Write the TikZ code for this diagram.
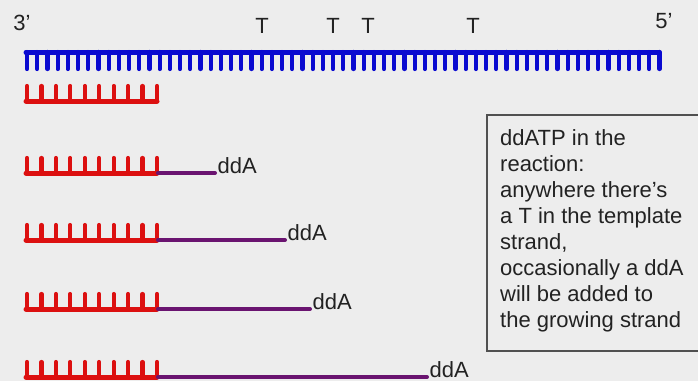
\documentclass[tikz,border=0pt]{standalone}
\usepackage{fontspec}
\setmainfont{Liberation Sans}
\definecolor{bgc}{HTML}{EDEDED}
\definecolor{tmpl}{HTML}{0A0AD0}
\definecolor{prim}{HTML}{DC1010}
\definecolor{ext}{HTML}{6A1470}
\definecolor{boxc}{HTML}{505050}
\definecolor{txt}{HTML}{222222}
\tikzset{
  lbl/.style={inner sep=0pt, text=txt, font=\fontsize{22}{26}\selectfont},
  ddalbl/.style={lbl, anchor=base west, inner xsep=2.5pt},
  extline/.style={draw=ext, line width=4pt, line cap=round},
  tooth/.style={line width=4.2pt},
}
\begin{document}
\begin{tikzpicture}[x=1pt,y=-1pt]
\fill[bgc] (0,0) rectangle (698,381);
\useasboundingbox (0,0) rectangle (698,381);
% labels on top
\node[lbl] (three) at (22,23) {3'};
\node[lbl] (five) at (664,21) {5'};
\foreach \x/\n in {262/t1,333/t2,368/t3,473/t4}
  \node[lbl] (\n) at (\x,26) {T};
% template strand
\draw[tmpl, line width=5pt, line cap=round] (26,52.5) -- (659,52.5);
\foreach \i in {0,...,62}
  \draw[tmpl, tooth, line cap=round] ({27+\i*10.2},52) -- ++(0,17);
% primers
\foreach \y/\n in {101/p0,173/p1,240/p2,309/p3,377/p4}{
  \draw[prim, line width=5pt, line cap=round] (26,\y) -- (157,\y);
  \foreach \i in {0,...,9}
    \draw[prim, tooth, line cap=round] ({27+\i*14.44},\y) -- ++(0,-15);
  \coordinate (\n) at (158,\y);
}
% extensions with ddA
\node[ddalbl] (d1) at (215,173) {ddA};
\node[ddalbl] (d2) at (285,240) {ddA};
\node[ddalbl] (d3) at (310,309) {ddA};
\node[ddalbl] (d4) at (427,377) {ddA};
\draw[extline] (p1) -- (d1.base west);
\draw[extline] (p2) -- (d2.base west);
\draw[extline] (p3) -- (d3.base west);
\draw[extline] (p4) -- (d4.base west);
% note box
\draw[boxc, line width=2pt] (487,115) rectangle (708,351);
\node[lbl, anchor=north west, align=left] (note) at (500,129)
  {ddATP in the\\reaction:\\anywhere there's\\a T in the template\\strand,\\occasionally a ddA\\will be added to\\the growing strand};
\end{tikzpicture}
\end{document}
